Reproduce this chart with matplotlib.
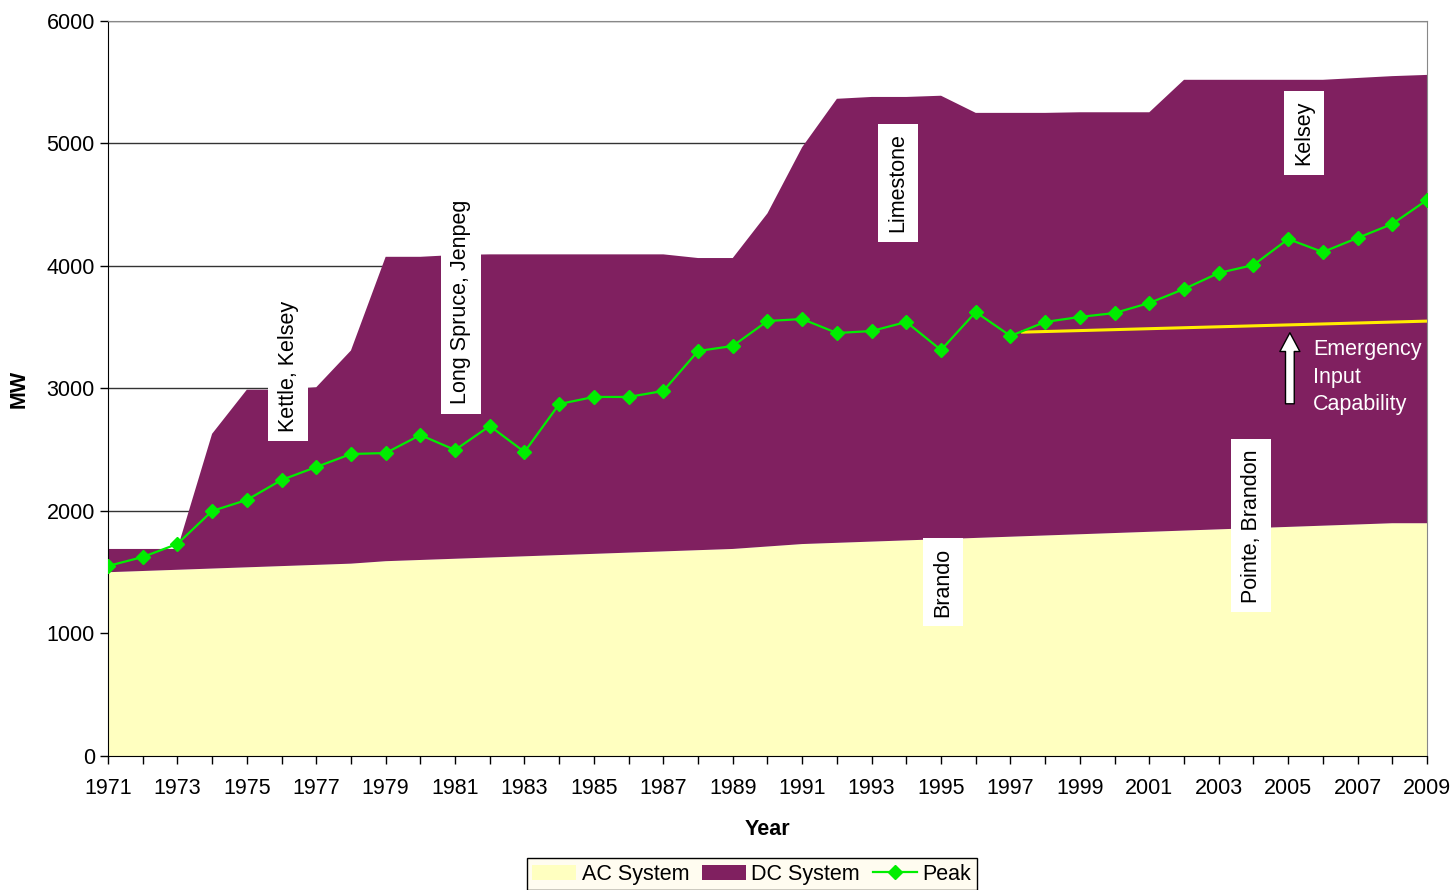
import matplotlib.pyplot as plt
import numpy as np

plt.rcParams['font.family'] = ['Liberation Sans', 'DejaVu Sans']

years = list(range(1971, 2010))
ac_system = [1500, 1510, 1520, 1530, 1540, 1550, 1560, 1570, 1590, 1600,
             1610, 1620, 1630, 1640, 1650, 1660, 1670, 1680, 1690, 1710,
             1730, 1740, 1750, 1760, 1770, 1780, 1790, 1800, 1810, 1820,
             1830, 1840, 1850, 1860, 1870, 1880, 1890, 1900, 1900]
dc_system = [190, 180, 170, 1100, 1450, 1440, 1450, 1740, 2485, 2475,
             2480, 2475, 2465, 2455, 2445, 2435, 2425, 2385, 2375, 2720,
             3240, 3625, 3630, 3620, 3620, 3470, 3460, 3450, 3445, 3435,
             3425, 3680, 3670, 3660, 3650, 3640, 3645, 3650, 3660]
peak = [1551, 1624, 1731, 2000, 2090, 2253, 2359, 2465, 2473, 2620,
        2498, 2694, 2482, 2873, 2931, 2931, 2980, 3306, 3347, 3551,
        3567, 3453, 3469, 3543, 3314, 3624, 3429, 3543, 3584, 3616,
        3698, 3812, 3943, 4008, 4220, 4114, 4229, 4343, 4539]
emerg_years = [1997.35, 2009]
emerg_vals = [3460, 3550]

# rotated station labels: (text, year, MW)
stations = [('Kettle, Kelsey', 1976.19, 3184),
            ('Long Spruce, Jenpeg', 1981.17, 3706),
            ('Limestone', 1993.76, 4678),
            ('Kelsey', 2005.46, 5086),
            ('Brando', 1995.06, 1420),
            ('Pointe, Brandon', 2003.93, 1878)]

FS = 15.5

fig = plt.figure(figsize=(14.53, 8.90), dpi=100)
ax = fig.add_axes([0.0743, 0.1506, 0.9078, 0.8258])

ax.stackplot(years, ac_system, dc_system, colors=['#FFFFC0', '#802060'],
             labels=['AC System', 'DC System'], zorder=2)
ax.plot(emerg_years, emerg_vals, color='#FFEE00', lw=2.2, zorder=3)
ax.plot(years, peak, color='#00EE00', lw=1.6, marker='D', ms=7,
        mfc='#00EE00', mec='#00EE00', label='Peak', zorder=4)

for txt, x, y in stations:
    ax.text(x, y, txt, rotation=90, ha='center', va='center', fontsize=FS,
            zorder=5, bbox=dict(boxstyle='square,pad=0.45', fc='white', ec='none'))

ax.annotate('', xy=(2005.05, 3455), xytext=(2005.05, 2875),
            arrowprops=dict(arrowstyle='simple,head_width=0.8,head_length=0.75,tail_width=0.35',
                            fc='white', ec='black', lw=1, mutation_scale=18,
                            shrinkA=0, shrinkB=0), zorder=5)
ax.text(2005.72, 3400, 'Emergency\nInput\nCapability', color='white',
        fontsize=FS, ha='left', va='top', linespacing=1.38, zorder=5)

ax.set_xlim(1971, 2009)
ax.set_ylim(0, 6000)
ax.set_xticks(years, minor=True)
ax.set_xticks(range(1971, 2010, 2))
ax.set_yticks(range(0, 6001, 1000))
ax.tick_params(axis='both', which='both', direction='out', labelsize=FS, length=6, width=1)
ax.tick_params(axis='x', pad=10)
ax.grid(axis='y', color='#333333', lw=1, zorder=1)
ax.set_axisbelow(True)
for s in ['top', 'right']:
    ax.spines[s].set_color('#888888')
ax.spines['left'].set_color('black')
ax.spines['bottom'].set_color('black')

ax.set_xlabel('Year', fontsize=FS, fontweight='bold', labelpad=14)
ax.set_ylabel('MW', fontsize=FS, fontweight='bold', labelpad=12)

leg = ax.legend(loc='upper center', bbox_to_anchor=(0.488, -0.1305), ncol=3,
                fontsize=FS, frameon=True, fancybox=False, edgecolor='black',
                facecolor='#FFFCF0', framealpha=1, handlelength=2.05,
                handletextpad=0.25, columnspacing=0.6, borderpad=0.25,
                borderaxespad=0.3)
leg.get_frame().set_linewidth(1)

fig.savefig('out.png', dpi=100)
